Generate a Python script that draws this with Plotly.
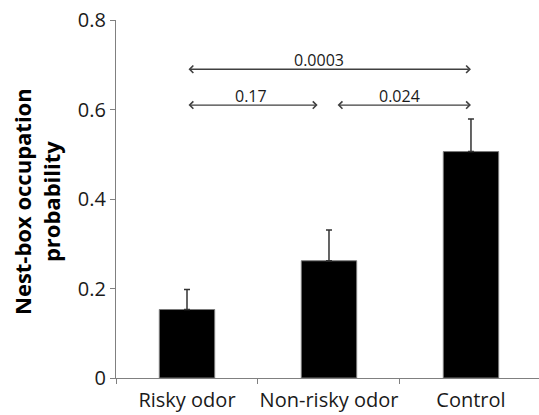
import plotly.graph_objects as go

categories = ["Risky odor", "Non-risky odor", "Control"]
means = [0.153, 0.262, 0.506]
errors_up = [0.045, 0.069, 0.073]

# pairwise comparisons: (start category index, end category index, p-value label)
comp_start = [0, 0, 1.05]
comp_end = [2, 0.92, 2]
comp_level = [0.69, 0.61, 0.61]
comp_labels = ["0.0003", "0.17", "0.024"]
label_pos = [0.93, 0.45, 1.5]

y_tickvals = [0, 0.2, 0.4, 0.6, 0.8]
y_ticktext = ["0", "0.2", "0.4", "0.6", "0.8"]

FONT = "Open Sans"

fig = go.Figure()
fig.add_trace(go.Bar(
    x=categories, y=means,
    marker=dict(color="black", line=dict(color="#7a7a7a", width=1)),
    error_y=dict(type="data", symmetric=False, array=errors_up,
                 arrayminus=[0] * len(errors_up),
                 color="#333333", thickness=1.5, width=3),
    width=0.39,
))

annotations = []
for s, e, lv, lab, lp in zip(comp_start, comp_end, comp_level, comp_labels, label_pos):
    annotations.append(dict(
        x=e, y=lv, ax=s, ay=lv, xref="x", yref="y", axref="x", ayref="y",
        showarrow=True, arrowhead=4, startarrowhead=4, arrowside="end+start",
        arrowsize=1.1, arrowwidth=1.3, arrowcolor="#404040", text="",
    ))
    annotations.append(dict(
        x=lp, y=lv, xref="x", yref="y", text=lab, showarrow=False,
        yanchor="bottom", yshift=-4,
        font=dict(family=FONT, size=16, color="#1a1a1a"),
    ))

annotations.append(dict(
    xref="paper", yref="paper", x=0, y=0.5, xanchor="center", yanchor="middle",
    xshift=-80, yshift=-3, textangle=-90, showarrow=False,
    text="<b>Nest-box occupation<br>probability</b>",
    font=dict(family=FONT, size=22, color="black"),
))

fig.update_layout(
    width=539, height=415,
    margin=dict(l=116, r=0, t=20, b=37, autoexpand=False),
    paper_bgcolor="white", plot_bgcolor="white",
    showlegend=False,
    annotations=annotations,
    xaxis=dict(
        type="category", range=[-0.5, 2.479], automargin=False, tickangle=0,
        showline=True, linecolor="#808080", linewidth=1.3,
        ticks="outside", tickson="boundaries", ticklen=5, tickcolor="#808080",
        ticklabelstandoff=4,
        tickfont=dict(family=FONT, size=20, color="#1a1a1a"),
        showgrid=False, zeroline=False,
    ),
    yaxis=dict(
        range=[0, 0.8], tickvals=y_tickvals, ticktext=y_ticktext, automargin=False,
        showline=True, linecolor="#808080", linewidth=1.3,
        ticks="outside", ticklen=5, tickcolor="#808080",
        tickfont=dict(family=FONT, size=20, color="#1a1a1a"),
        showgrid=False, zeroline=False,
    ),
)

fig.write_html("out.html", config={"displayModeBar": False},
               post_script="document.body.style.margin='0';document.body.style.overflow='hidden';")
